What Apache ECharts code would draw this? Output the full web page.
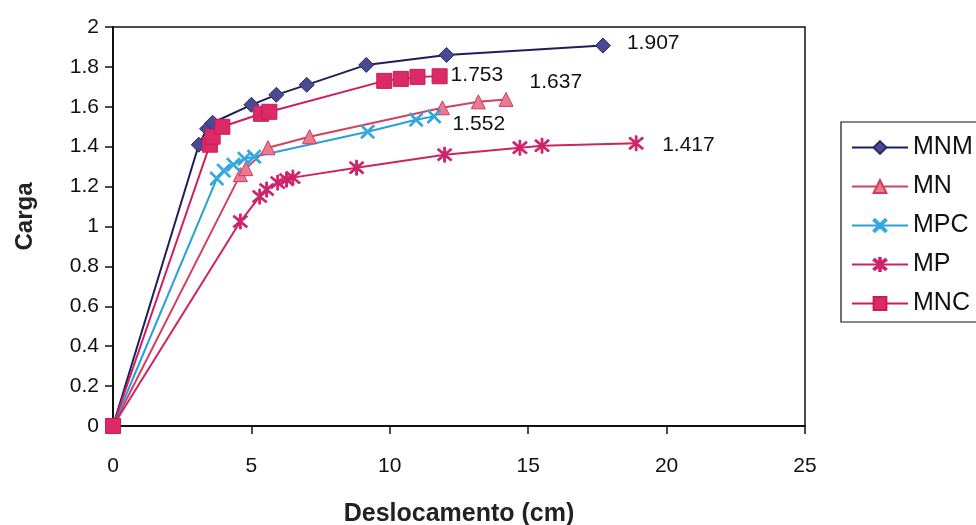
<!DOCTYPE html>
<html>
<head>
<meta charset="utf-8">
<script src="https://cdn.jsdelivr.net/npm/echarts@6/dist/echarts.min.js"></script>
<style>
  html, body { margin: 0; padding: 0; background: #fff; }
  #chart { width: 976px; height: 525px; }
</style>
</head>
<body>
<div id="chart"></div>
<script>
// Load vs. displacement curves for each specimen type
const seriesNames = ['MNM', 'MN', 'MPC', 'MP', 'MNC'];

const mnmX = [0, 3.1, 3.4, 3.6, 5.0, 5.9, 7.0, 9.15, 12.05, 17.7];
const mnmY = [0, 1.41, 1.49, 1.52, 1.61, 1.66, 1.71, 1.81, 1.86, 1.907];

const mnX = [0, 4.6, 4.8, 5.6, 7.1, 11.9, 13.2, 14.2];
const mnY = [0, 1.26, 1.29, 1.395, 1.45, 1.595, 1.625, 1.637];

const mpcX = [0, 3.75, 4.0, 4.35, 4.75, 5.1, 9.2, 10.95, 11.6];
const mpcY = [0, 1.24, 1.28, 1.31, 1.34, 1.35, 1.475, 1.535, 1.552];

const mpX = [0, 4.6, 5.3, 5.55, 5.95, 6.27, 6.5, 8.8, 11.98, 14.7, 15.5, 18.9];
const mpY = [0, 1.025, 1.15, 1.185, 1.22, 1.235, 1.245, 1.295, 1.36, 1.395, 1.405, 1.417];

const mncX = [0, 3.5, 3.6, 3.95, 5.35, 5.65, 9.8, 10.4, 11.0, 11.8];
const mncY = [0, 1.41, 1.45, 1.50, 1.565, 1.575, 1.73, 1.74, 1.75, 1.753];

const xTicks = { min: 0, max: 25, interval: 5 };
const yTicks = { min: 0, max: 2, interval: 0.2 };

// Marker shapes
const crossPath = 'path://M0,1 L1,0 L5,4 L9,0 L10,1 L6,5 L10,9 L9,10 L5,6 L1,10 L0,9 L4,5 Z';
const starPath = 'path://M0,1 L1,0 L5,4 L9,0 L10,1 L6,5 L10,9 L9,10 L5,6 L1,10 L0,9 L4,5 Z M4.4,-1 L5.6,-1 L5.6,11 L4.4,11 Z';

const FONT = '"Liberation Sans", Arial, sans-serif';

function build(xs, ys, endLabel) {
  return xs.map((x, i) => {
    const item = { value: [x, ys[i]] };
    if (i === xs.length - 1) {
      item.label = Object.assign({
        show: true,
        formatter: p => p.value[1].toFixed(3),
        color: '#111',
        fontSize: 21,
        fontFamily: FONT
      }, endLabel);
    }
    return item;
  });
}

const styles = {
  MNM: { line: '#1e1e5c', fill: '#4a4a92', border: '#2a2a6a', symbol: 'diamond', size: 15,
         label: { position: 'right', distance: 16, offset: [0, -2] } },
  MN:  { line: '#d4405e', fill: '#ea7a92', border: '#d23a5c', symbol: 'triangle', size: 14,
         label: { position: 'right', distance: 10, offset: [6, -17] } },
  MPC: { line: '#2a9fd8', fill: '#30a8e0', border: '#30a8e0', symbol: crossPath, size: 14,
         label: { position: 'right', distance: 6, offset: [5, 8] } },
  MP:  { line: '#cc2460', fill: '#d0226a', border: '#d0226a', symbol: starPath, size: 15,
         label: { position: 'right', distance: 18, offset: [0, 2] } },
  MNC: { line: '#d01c58', fill: '#dc2a66', border: '#c81c58', symbol: 'rect', size: 15,
         label: { position: 'right', distance: 3, offset: [0, -1] } }
};

const dataSets = {
  MNM: [mnmX, mnmY], MN: [mnX, mnY], MPC: [mpcX, mpcY], MP: [mpX, mpY], MNC: [mncX, mncY]
};

const series = seriesNames.map(name => {
  const s = styles[name];
  const [xs, ys] = dataSets[name];
  return {
    name: name,
    type: 'line',
    data: build(xs, ys, s.label),
    symbol: s.symbol,
    symbolSize: s.size,
    showAllSymbol: true,
    lineStyle: { color: s.line, width: 2 },
    itemStyle: { color: s.fill, borderColor: s.border, borderWidth: 1, opacity: 1 },
    emphasis: { disabled: true },
    animation: false
  };
});

const chart = echarts.init(document.getElementById('chart'), null, { renderer: 'canvas' });
chart.setOption({
  backgroundColor: '#fff',
  animation: false,
  grid: {
    left: 113, right: 171, top: 27, bottom: 99,
    outerBoundsMode: 'none',
    containLabel: false,
    show: true, borderColor: '#111', borderWidth: 1.5, backgroundColor: 'transparent'
  },
  legend: {
    orient: 'vertical',
    left: 841, top: 122,
    data: seriesNames,
    itemWidth: 56, itemHeight: 16,
    itemGap: 14,
    padding: [13, 30, 6, 10],
    borderColor: '#111', borderWidth: 1.2,
    textStyle: { color: '#111', fontSize: 25, fontFamily: FONT, padding: [0, 0, 0, 0] }
  },
  xAxis: {
    type: 'value',
    min: xTicks.min, max: xTicks.max, interval: xTicks.interval,
    name: 'Deslocamento (cm)',
    nameLocation: 'middle', nameGap: 76,
    nameTextStyle: { color: '#222', fontSize: 25, fontWeight: 'bold', fontFamily: FONT },
    axisLine: { show: true, lineStyle: { color: '#111', width: 2 } },
    axisTick: { show: true, length: 8, lineStyle: { color: '#111', width: 1.5 } },
    axisLabel: { color: '#111', fontSize: 21, margin: 30, fontFamily: FONT },
    splitLine: { show: false }
  },
  yAxis: {
    type: 'value',
    min: yTicks.min, max: yTicks.max, interval: yTicks.interval,
    name: 'Carga',
    nameLocation: 'middle', nameGap: 76, nameRotate: 90,
    nameTextStyle: { color: '#222', fontSize: 24, fontWeight: 'bold', fontFamily: FONT, padding: [0, 0, 0, 20] },
    axisLine: { show: true, lineStyle: { color: '#111', width: 2 } },
    axisTick: { show: true, length: 8, lineStyle: { color: '#111', width: 1.5 } },
    axisLabel: { color: '#111', fontSize: 21, margin: 14, fontFamily: FONT },
    splitLine: { show: false }
  },
  series: series
});
</script>
</body>
</html>
